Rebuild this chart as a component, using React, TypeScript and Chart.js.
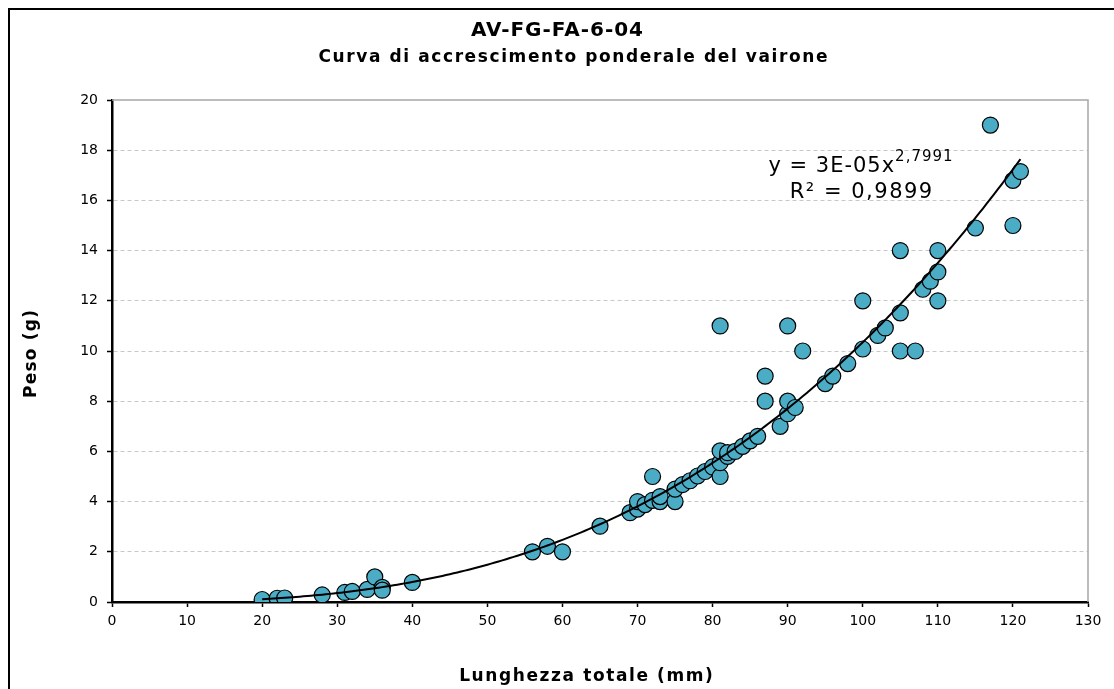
import React, { useEffect, useRef } from "react";
import { Chart, registerables } from "chart.js";

Chart.register(...registerables);

const TITLE = "AV-FG-FA-6-04";
const SUBTITLE = "Curva di accrescimento ponderale del vairone";
const X_TITLE = "Lunghezza totale (mm)";
const Y_TITLE = "Peso (g)";
const EQ_MAIN = "y = 3E-05x";
const EQ_EXP = "2,7991";
const EQ_R2 = "R² = 0,9899";

const LENGTH_MM = [
  20, 22, 23, 28, 31, 32, 34, 35, 36, 36, 40, 56, 58, 60, 65, 69, 70, 70, 71, 72,
  72, 73, 73, 75, 75, 76, 77, 78, 79, 80, 81, 81, 81, 81, 82, 82, 83, 84, 85, 86,
  87, 87, 89, 90, 90, 90, 91, 92, 95, 96, 98, 100, 100, 102, 103, 105, 105, 105,
  107, 108, 109, 110, 110, 110, 115, 117, 120, 120, 121,
];
const WEIGHT_G = [
  0.1, 0.15, 0.16, 0.28, 0.38, 0.42, 0.5, 1.0, 0.58, 0.47, 0.78, 2.0, 2.22, 2.0,
  3.02, 3.56, 3.7, 4.0, 3.88, 4.05, 5.0, 4.0, 4.2, 4.0, 4.5, 4.68, 4.83, 5.02, 5.2,
  5.38, 5.0, 5.55, 6.02, 11.0, 5.8, 5.95, 6.0, 6.2, 6.42, 6.6, 8.0, 9.0, 7.0, 7.5,
  8.0, 11.0, 7.75, 10.0, 8.7, 9.0, 9.5, 10.08, 12.0, 10.62, 10.92, 10.0, 11.52,
  14.0, 10.0, 12.46, 12.78, 12.0, 13.15, 14.0, 14.9, 19.0, 15.0, 16.8, 17.15,
];

// Power trendline y = a * x^b (a unrounded, as fitted)
const TREND_COEF = 2.61e-5;
const TREND_EXP = 2.7991;

const X_MIN = 0, X_MAX = 130, X_STEP = 10;
const Y_MIN = 0, Y_MAX = 20, Y_STEP = 2;

const FONT = "'DejaVu Sans', Verdana, sans-serif";

function spacedText(ctx: any, text: string, x: number, y: number, spacing: number, align: string) {
  ctx.letterSpacing = `${spacing}px`;
  const w = ctx.measureText(text).width - spacing;
  let sx = x;
  if (align === "center") sx = x - w / 2;
  else if (align === "right") sx = x - w;
  ctx.textAlign = "left";
  ctx.fillText(text, sx, y);
  ctx.letterSpacing = "0px";
  return w;
}

export default function App() {
  const ref = useRef<HTMLCanvasElement | null>(null);

  useEffect(() => {
    const canvas = ref.current;
    if (!canvas) return;

    const points = LENGTH_MM.map((x, i) => ({ x, y: WEIGHT_G[i] }));
    const lo = Math.min(...LENGTH_MM), hi = Math.max(...LENGTH_MM);
    const trend: { x: number; y: number }[] = [];
    for (let x = lo; x <= hi + 1e-9; x += 0.5) trend.push({ x, y: TREND_COEF * Math.pow(x, TREND_EXP) });

    const decor = {
      id: "decor",
      beforeDatasetsDraw(chart: any) {
        const { ctx, chartArea: a } = chart;
        ctx.save();
        ctx.strokeStyle = "#a6a6a6";
        ctx.lineWidth = 1.5;
        ctx.beginPath();
        ctx.moveTo(a.left, a.top);
        ctx.lineTo(a.right, a.top);
        ctx.lineTo(a.right, a.bottom);
        ctx.stroke();
        ctx.restore();
      },
      afterDraw(chart: any) {
        const { ctx } = chart;
        ctx.save();
        ctx.fillStyle = "#000";
        ctx.textBaseline = "middle";
        ctx.font = `bold 20px ${FONT}`;
        spacedText(ctx, TITLE, 547, 21, 1, "center");
        ctx.font = `bold 17px ${FONT}`;
        spacedText(ctx, SUBTITLE, 563, 48, 1.6, "center");

        // axis titles
        ctx.font = `bold 17px ${FONT}`;
        spacedText(ctx, X_TITLE, 576, 667, 1.6, "center");
        ctx.save();
        ctx.translate(22, 344);
        ctx.rotate(-Math.PI / 2);
        spacedText(ctx, Y_TITLE, 0, 0, 1.2, "center");
        ctx.restore();

        // equation
        ctx.textBaseline = "alphabetic";
        const ex = 851;
        ctx.font = `21px ${FONT}`;
        ctx.letterSpacing = "1px";
        const w1 = ctx.measureText(EQ_MAIN).width;
        ctx.font = `15px ${FONT}`;
        const w2 = ctx.measureText(EQ_EXP).width;
        const start = ex - (w1 + w2) / 2;
        ctx.font = `21px ${FONT}`;
        ctx.textAlign = "left";
        ctx.fillText(EQ_MAIN, start, 162);
        ctx.font = `15px ${FONT}`;
        ctx.fillText(EQ_EXP, start + w1, 151);
        ctx.letterSpacing = "0px";
        ctx.font = `21px ${FONT}`;
        spacedText(ctx, EQ_R2, ex, 188, 1.5, "center");
        ctx.restore();
      },
    };

    const chart = new Chart(canvas, {
      type: "scatter",
      data: {
        datasets: [
          {
            type: "line",
            data: trend,
            borderColor: "#000",
            borderWidth: 2,
            pointRadius: 0,
            fill: false,
            tension: 0,
            order: 0,
          } as any,
          {
            data: points,
            backgroundColor: "#4BACC6",
            borderColor: "#000",
            borderWidth: 1.2,
            pointRadius: 8,
            order: 1,
          },
        ],
      },
      options: {
        animation: false,
        responsive: false,
        devicePixelRatio: 1,
        layout: { padding: { left: 0, top: 90, right: 26, bottom: 0 } },
        plugins: { legend: { display: false }, tooltip: { enabled: false }, title: { display: false } },
        scales: {
          x: {
            type: "linear",
            min: X_MIN,
            max: X_MAX,
            afterFit: (s: any) => { s.height = 87; },
            ticks: { stepSize: X_STEP, color: "#000", padding: 6, font: { family: FONT, size: 14 }, maxRotation: 0 },
            grid: { drawOnChartArea: false, drawTicks: true, tickLength: 5, tickColor: "#000", tickWidth: 1.5 },
            border: { display: true, color: "#000", width: 2.5 },
            title: { display: false },
          },
          y: {
            type: "linear",
            min: Y_MIN,
            max: Y_MAX,
            afterFit: (s: any) => { s.width = 102; },
            ticks: { stepSize: Y_STEP, color: "#000", padding: 9, font: { family: FONT, size: 14 } },
            grid: {
              drawOnChartArea: true,
              drawTicks: true,
              tickLength: 5,
              tickColor: "#000",
              tickWidth: 1.5,
              tickBorderDash: [],
              color: (c: any) => (c.tick && c.tick.value === Y_MAX ? "rgba(0,0,0,0)" : "#c8c8c8"),
              lineWidth: 1,
            },
            border: { display: true, color: "#000", width: 2.5, dash: [4, 3] },
            title: { display: false },
          },
        },
      },
      plugins: [decor],
    } as any);

    return () => chart.destroy();
  }, []);

  return (
    <div
      style={{
        position: "absolute",
        left: 8,
        top: 8,
        width: 1106,
        height: 681,
        boxSizing: "border-box",
        borderLeft: "2px solid #000",
        borderTop: "2px solid #000",
        background: "#fff",
      }}
    >
      <canvas ref={ref} width={1104} height={679} style={{ display: "block", width: 1104, height: 679 }} />
    </div>
  );
}
